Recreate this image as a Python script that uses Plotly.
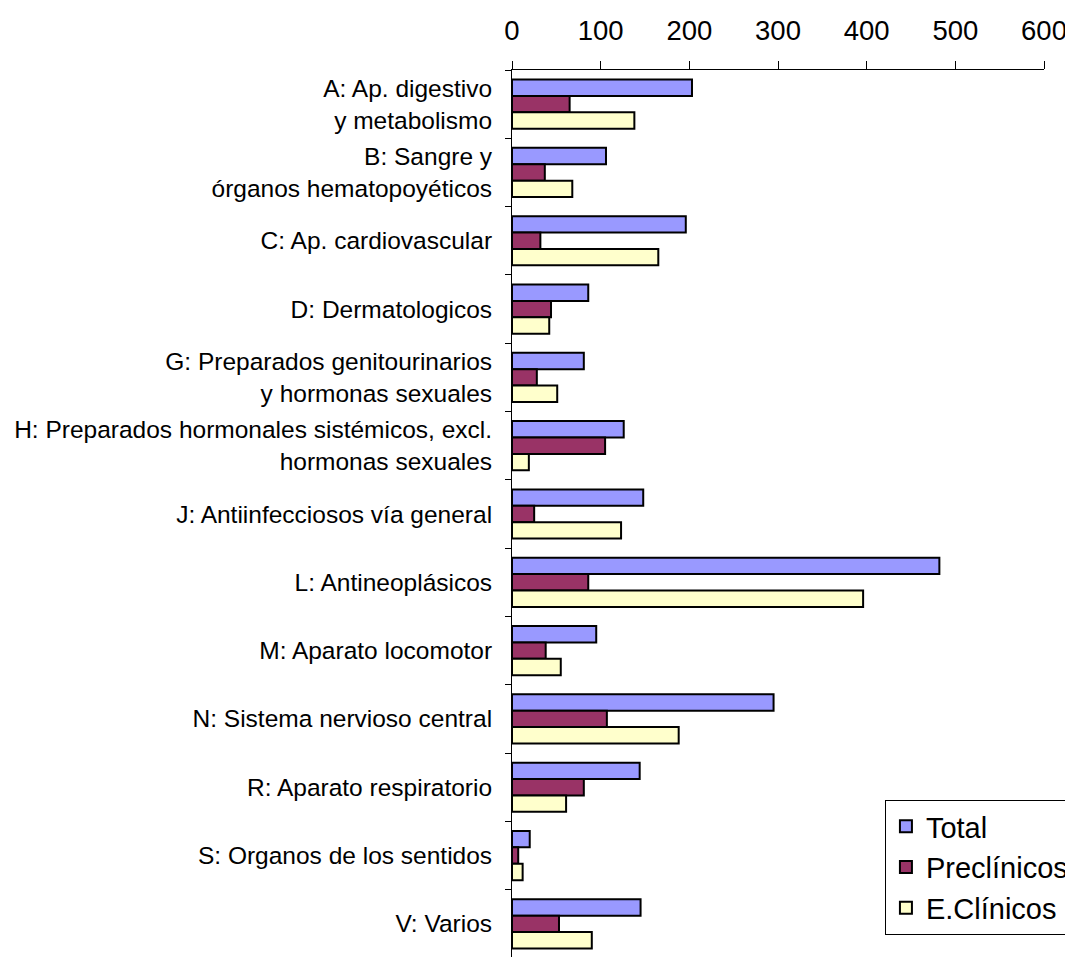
import plotly.graph_objects as go

categories = [
    "A: Ap. digestivo<br>y metabolismo",
    "B: Sangre y<br>órganos hematopoyéticos",
    "C: Ap. cardiovascular",
    "D: Dermatologicos",
    "G: Preparados genitourinarios<br>y hormonas sexuales",
    "H: Preparados hormonales sistémicos, excl.<br>hormonas sexuales",
    "J: Antiinfecciosos vía general",
    "L: Antineoplásicos",
    "M: Aparato locomotor",
    "N: Sistema nervioso central",
    "R: Aparato respiratorio",
    "S: Organos de los sentidos",
    "V: Varios",
]
total = [203, 106, 196, 86, 81, 126, 148, 482, 95, 295, 144, 20, 145]
preclinicos = [65, 37, 32, 44, 28, 105, 25, 86, 38, 107, 81, 7, 53]
e_clinicos = [138, 68, 165, 42, 51, 19, 123, 396, 55, 188, 61, 12, 90]

series = [
    ("Total", total, "#9999FF"),
    ("Preclínicos", preclinicos, "#993366"),
    ("E.Clínicos", e_clinicos, "#FFFFCC"),
]

font_family = "Arial, Liberation Sans, sans-serif"

fig = go.Figure()
for name, vals, color in series:
    fig.add_trace(go.Bar(
        y=categories, x=vals, name=name, orientation="h",
        marker=dict(color=color, line=dict(color="black", width=2)),
    ))

fig.update_layout(
    width=1073, height=957,
    margin=dict(l=504, r=37, t=62, b=7),
    paper_bgcolor="white", plot_bgcolor="white",
    barmode="group", bargap=0.28, bargroupgap=0,
    font=dict(family=font_family, color="black"),
    showlegend=True,
    legend=dict(
        x=0.701, y=0.178, xanchor="left", yanchor="top",
        bgcolor="white", bordercolor="black", borderwidth=1,
        font=dict(size=29, family=font_family, color="black"),
        traceorder="normal",
    ),
    xaxis=dict(
        side="top", range=[0, 600], dtick=100, tick0=0,
        showgrid=False, zeroline=False,
        showline=True, linecolor="black", linewidth=1,
        ticks="outside", ticklen=8, tickcolor="black",
        ticklabelstandoff=10,
        tickfont=dict(size=27.5, family=font_family, color="black"),
    ),
    yaxis=dict(
        autorange="reversed",
        showgrid=False, showline=True, linecolor="black", linewidth=1,
        ticks="outside", ticklen=6, tickcolor="black", tickson="boundaries",
        ticklabelstandoff=14,
        tickfont=dict(size=24.5, family=font_family, color="black"),
    ),
)

fig.write_html("out.html")
